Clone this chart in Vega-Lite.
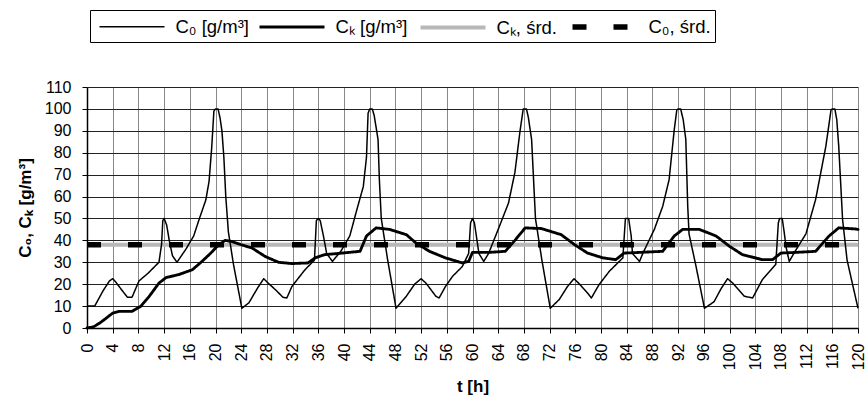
{
  "$schema": "https://vega.github.io/schema/vega-lite/v6.json",
  "width": 771,
  "height": 241,
  "autosize": {"type": "none"},
  "padding": {"left": 87, "top": 87, "right": 10, "bottom": 72},
  "background": "white",
  "data": {"values": [
    {"series": "Cₖ, śrd.", "t": 0, "v": 38},
    {"series": "Cₖ, śrd.", "t": 120, "v": 38},
    {"series": "C₀, śrd.", "t": 0, "v": 38},
    {"series": "C₀, śrd.", "t": 120, "v": 38},
    {"series": "Cₖ [g/m³]", "t": 0, "v": 0},
    {"series": "Cₖ [g/m³]", "t": 1, "v": 0.5},
    {"series": "Cₖ [g/m³]", "t": 2, "v": 2.3},
    {"series": "Cₖ [g/m³]", "t": 3, "v": 4.5},
    {"series": "Cₖ [g/m³]", "t": 4, "v": 6.8},
    {"series": "Cₖ [g/m³]", "t": 5, "v": 7.6},
    {"series": "Cₖ [g/m³]", "t": 7, "v": 7.6},
    {"series": "Cₖ [g/m³]", "t": 8.4, "v": 10},
    {"series": "Cₖ [g/m³]", "t": 9.7, "v": 14.5},
    {"series": "Cₖ [g/m³]", "t": 11.2, "v": 20.5},
    {"series": "Cₖ [g/m³]", "t": 12.3, "v": 23},
    {"series": "Cₖ [g/m³]", "t": 14.3, "v": 24.4},
    {"series": "Cₖ [g/m³]", "t": 16.4, "v": 26.6},
    {"series": "Cₖ [g/m³]", "t": 17.9, "v": 30.4},
    {"series": "Cₖ [g/m³]", "t": 19.2, "v": 34},
    {"series": "Cₖ [g/m³]", "t": 20.5, "v": 38},
    {"series": "Cₖ [g/m³]", "t": 21.5, "v": 40},
    {"series": "Cₖ [g/m³]", "t": 22.5, "v": 39.5},
    {"series": "Cₖ [g/m³]", "t": 24, "v": 38},
    {"series": "Cₖ [g/m³]", "t": 25.7, "v": 36.5},
    {"series": "Cₖ [g/m³]", "t": 27.7, "v": 32.7},
    {"series": "Cₖ [g/m³]", "t": 29.8, "v": 30},
    {"series": "Cₖ [g/m³]", "t": 31.9, "v": 29.4},
    {"series": "Cₖ [g/m³]", "t": 34.4, "v": 29.7},
    {"series": "Cₖ [g/m³]", "t": 35.5, "v": 32},
    {"series": "Cₖ [g/m³]", "t": 37, "v": 33.5},
    {"series": "Cₖ [g/m³]", "t": 39, "v": 34},
    {"series": "Cₖ [g/m³]", "t": 42.5, "v": 35},
    {"series": "Cₖ [g/m³]", "t": 43.5, "v": 42},
    {"series": "Cₖ [g/m³]", "t": 45, "v": 45.7},
    {"series": "Cₖ [g/m³]", "t": 47.1, "v": 45},
    {"series": "Cₖ [g/m³]", "t": 49.7, "v": 42.6},
    {"series": "Cₖ [g/m³]", "t": 51.2, "v": 38.8},
    {"series": "Cₖ [g/m³]", "t": 53.3, "v": 35},
    {"series": "Cₖ [g/m³]", "t": 55.8, "v": 32},
    {"series": "Cₖ [g/m³]", "t": 58.4, "v": 29.7},
    {"series": "Cₖ [g/m³]", "t": 59.4, "v": 30.4},
    {"series": "Cₖ [g/m³]", "t": 60, "v": 34.5},
    {"series": "Cₖ [g/m³]", "t": 62.5, "v": 34.5},
    {"series": "Cₖ [g/m³]", "t": 65.1, "v": 35},
    {"series": "Cₖ [g/m³]", "t": 66.6, "v": 40},
    {"series": "Cₖ [g/m³]", "t": 68.2, "v": 45.7},
    {"series": "Cₖ [g/m³]", "t": 70.7, "v": 45.4},
    {"series": "Cₖ [g/m³]", "t": 73.8, "v": 42.6},
    {"series": "Cₖ [g/m³]", "t": 75.9, "v": 38},
    {"series": "Cₖ [g/m³]", "t": 77.9, "v": 34.2},
    {"series": "Cₖ [g/m³]", "t": 80.3, "v": 32},
    {"series": "Cₖ [g/m³]", "t": 82.3, "v": 31.2},
    {"series": "Cₖ [g/m³]", "t": 83.6, "v": 34.2},
    {"series": "Cₖ [g/m³]", "t": 86, "v": 34.5},
    {"series": "Cₖ [g/m³]", "t": 89.6, "v": 35},
    {"series": "Cₖ [g/m³]", "t": 91.4, "v": 42},
    {"series": "Cₖ [g/m³]", "t": 92.7, "v": 45},
    {"series": "Cₖ [g/m³]", "t": 95.3, "v": 45},
    {"series": "Cₖ [g/m³]", "t": 97.9, "v": 42},
    {"series": "Cₖ [g/m³]", "t": 100, "v": 37.3},
    {"series": "Cₖ [g/m³]", "t": 102, "v": 33.5},
    {"series": "Cₖ [g/m³]", "t": 105.1, "v": 31.2},
    {"series": "Cₖ [g/m³]", "t": 106.7, "v": 31.2},
    {"series": "Cₖ [g/m³]", "t": 108, "v": 34.2},
    {"series": "Cₖ [g/m³]", "t": 110.3, "v": 34.5},
    {"series": "Cₖ [g/m³]", "t": 113.4, "v": 35},
    {"series": "Cₖ [g/m³]", "t": 115.5, "v": 42},
    {"series": "Cₖ [g/m³]", "t": 117, "v": 45.7},
    {"series": "Cₖ [g/m³]", "t": 119.6, "v": 45.2},
    {"series": "Cₖ [g/m³]", "t": 120, "v": 45},
    {"series": "C₀ [g/m³]", "t": 0, "v": 10},
    {"series": "C₀ [g/m³]", "t": 1.2, "v": 10},
    {"series": "C₀ [g/m³]", "t": 2.5, "v": 17},
    {"series": "C₀ [g/m³]", "t": 3.5, "v": 21.5},
    {"series": "C₀ [g/m³]", "t": 4.0, "v": 22.5},
    {"series": "C₀ [g/m³]", "t": 4.6, "v": 20.5},
    {"series": "C₀ [g/m³]", "t": 5.5, "v": 17},
    {"series": "C₀ [g/m³]", "t": 6.3, "v": 14},
    {"series": "C₀ [g/m³]", "t": 7.0, "v": 14},
    {"series": "C₀ [g/m³]", "t": 8.1, "v": 21.5},
    {"series": "C₀ [g/m³]", "t": 9.5, "v": 25},
    {"series": "C₀ [g/m³]", "t": 11.2, "v": 30},
    {"series": "C₀ [g/m³]", "t": 11.6, "v": 38},
    {"series": "C₀ [g/m³]", "t": 11.8, "v": 49},
    {"series": "C₀ [g/m³]", "t": 12.0, "v": 50},
    {"series": "C₀ [g/m³]", "t": 12.4, "v": 47},
    {"series": "C₀ [g/m³]", "t": 12.8, "v": 40},
    {"series": "C₀ [g/m³]", "t": 13.3, "v": 33},
    {"series": "C₀ [g/m³]", "t": 14.0, "v": 30},
    {"series": "C₀ [g/m³]", "t": 15.4, "v": 36},
    {"series": "C₀ [g/m³]", "t": 16.6, "v": 42},
    {"series": "C₀ [g/m³]", "t": 17.5, "v": 50},
    {"series": "C₀ [g/m³]", "t": 18.5, "v": 58.5},
    {"series": "C₀ [g/m³]", "t": 19.0, "v": 67},
    {"series": "C₀ [g/m³]", "t": 19.4, "v": 82},
    {"series": "C₀ [g/m³]", "t": 19.75, "v": 99},
    {"series": "C₀ [g/m³]", "t": 20.0, "v": 100},
    {"series": "C₀ [g/m³]", "t": 20.4, "v": 100},
    {"series": "C₀ [g/m³]", "t": 20.7, "v": 96},
    {"series": "C₀ [g/m³]", "t": 21.0, "v": 90},
    {"series": "C₀ [g/m³]", "t": 21.3, "v": 78},
    {"series": "C₀ [g/m³]", "t": 21.6, "v": 60},
    {"series": "C₀ [g/m³]", "t": 22.0, "v": 44},
    {"series": "C₀ [g/m³]", "t": 22.8, "v": 29},
    {"series": "C₀ [g/m³]", "t": 24.1, "v": 9},
    {"series": "C₀ [g/m³]", "t": 25.2, "v": 11.5},
    {"series": "C₀ [g/m³]", "t": 26.5, "v": 18},
    {"series": "C₀ [g/m³]", "t": 27.5, "v": 22.5},
    {"series": "C₀ [g/m³]", "t": 28.2, "v": 20.5},
    {"series": "C₀ [g/m³]", "t": 29.5, "v": 17},
    {"series": "C₀ [g/m³]", "t": 30.5, "v": 14},
    {"series": "C₀ [g/m³]", "t": 31.1, "v": 13.7},
    {"series": "C₀ [g/m³]", "t": 31.9, "v": 19},
    {"series": "C₀ [g/m³]", "t": 33.9, "v": 26.5},
    {"series": "C₀ [g/m³]", "t": 35.4, "v": 31},
    {"series": "C₀ [g/m³]", "t": 35.7, "v": 49},
    {"series": "C₀ [g/m³]", "t": 36.0, "v": 50},
    {"series": "C₀ [g/m³]", "t": 36.3, "v": 49},
    {"series": "C₀ [g/m³]", "t": 36.8, "v": 42},
    {"series": "C₀ [g/m³]", "t": 37.3, "v": 34},
    {"series": "C₀ [g/m³]", "t": 38.2, "v": 30.4},
    {"series": "C₀ [g/m³]", "t": 39.5, "v": 35},
    {"series": "C₀ [g/m³]", "t": 40.9, "v": 42},
    {"series": "C₀ [g/m³]", "t": 42.0, "v": 54},
    {"series": "C₀ [g/m³]", "t": 43.0, "v": 64.5},
    {"series": "C₀ [g/m³]", "t": 43.5, "v": 78},
    {"series": "C₀ [g/m³]", "t": 43.75, "v": 98},
    {"series": "C₀ [g/m³]", "t": 44.0, "v": 100},
    {"series": "C₀ [g/m³]", "t": 44.4, "v": 100},
    {"series": "C₀ [g/m³]", "t": 44.7, "v": 97},
    {"series": "C₀ [g/m³]", "t": 45.3, "v": 86},
    {"series": "C₀ [g/m³]", "t": 45.5, "v": 68},
    {"series": "C₀ [g/m³]", "t": 45.8, "v": 50},
    {"series": "C₀ [g/m³]", "t": 46.8, "v": 31},
    {"series": "C₀ [g/m³]", "t": 48.1, "v": 9},
    {"series": "C₀ [g/m³]", "t": 49.7, "v": 14.5},
    {"series": "C₀ [g/m³]", "t": 51.0, "v": 20},
    {"series": "C₀ [g/m³]", "t": 52.0, "v": 22.5},
    {"series": "C₀ [g/m³]", "t": 52.75, "v": 20.5},
    {"series": "C₀ [g/m³]", "t": 54.3, "v": 14.5},
    {"series": "C₀ [g/m³]", "t": 54.8, "v": 13.7},
    {"series": "C₀ [g/m³]", "t": 55.8, "v": 19},
    {"series": "C₀ [g/m³]", "t": 56.9, "v": 23.6},
    {"series": "C₀ [g/m³]", "t": 58.4, "v": 28},
    {"series": "C₀ [g/m³]", "t": 59.4, "v": 34},
    {"series": "C₀ [g/m³]", "t": 59.7, "v": 48},
    {"series": "C₀ [g/m³]", "t": 60.0, "v": 50},
    {"series": "C₀ [g/m³]", "t": 60.3, "v": 48},
    {"series": "C₀ [g/m³]", "t": 61.0, "v": 34},
    {"series": "C₀ [g/m³]", "t": 61.75, "v": 30.4},
    {"series": "C₀ [g/m³]", "t": 62.5, "v": 34},
    {"series": "C₀ [g/m³]", "t": 64.0, "v": 45},
    {"series": "C₀ [g/m³]", "t": 65.6, "v": 57},
    {"series": "C₀ [g/m³]", "t": 66.6, "v": 71},
    {"series": "C₀ [g/m³]", "t": 67.4, "v": 90},
    {"series": "C₀ [g/m³]", "t": 67.9, "v": 100},
    {"series": "C₀ [g/m³]", "t": 68.4, "v": 100},
    {"series": "C₀ [g/m³]", "t": 68.7, "v": 96},
    {"series": "C₀ [g/m³]", "t": 69.2, "v": 86},
    {"series": "C₀ [g/m³]", "t": 69.5, "v": 68},
    {"series": "C₀ [g/m³]", "t": 69.8, "v": 50},
    {"series": "C₀ [g/m³]", "t": 70.8, "v": 31},
    {"series": "C₀ [g/m³]", "t": 72.1, "v": 9},
    {"series": "C₀ [g/m³]", "t": 73.5, "v": 13},
    {"series": "C₀ [g/m³]", "t": 74.8, "v": 19},
    {"series": "C₀ [g/m³]", "t": 75.8, "v": 22.5},
    {"series": "C₀ [g/m³]", "t": 76.5, "v": 20.5},
    {"series": "C₀ [g/m³]", "t": 77.9, "v": 16},
    {"series": "C₀ [g/m³]", "t": 78.5, "v": 13.7},
    {"series": "C₀ [g/m³]", "t": 79.7, "v": 19.8},
    {"series": "C₀ [g/m³]", "t": 81.3, "v": 25.9},
    {"series": "C₀ [g/m³]", "t": 83.4, "v": 32},
    {"series": "C₀ [g/m³]", "t": 83.8, "v": 50},
    {"series": "C₀ [g/m³]", "t": 84.3, "v": 50},
    {"series": "C₀ [g/m³]", "t": 84.7, "v": 42},
    {"series": "C₀ [g/m³]", "t": 84.9, "v": 34},
    {"series": "C₀ [g/m³]", "t": 86.0, "v": 30.4},
    {"series": "C₀ [g/m³]", "t": 86.5, "v": 34},
    {"series": "C₀ [g/m³]", "t": 88.3, "v": 45},
    {"series": "C₀ [g/m³]", "t": 89.6, "v": 55.5},
    {"series": "C₀ [g/m³]", "t": 90.6, "v": 67.7},
    {"series": "C₀ [g/m³]", "t": 91.4, "v": 90.5},
    {"series": "C₀ [g/m³]", "t": 91.8, "v": 99.5},
    {"series": "C₀ [g/m³]", "t": 92.0, "v": 100},
    {"series": "C₀ [g/m³]", "t": 92.4, "v": 100},
    {"series": "C₀ [g/m³]", "t": 92.8, "v": 95},
    {"series": "C₀ [g/m³]", "t": 93.2, "v": 86},
    {"series": "C₀ [g/m³]", "t": 93.5, "v": 55.5},
    {"series": "C₀ [g/m³]", "t": 93.7, "v": 43},
    {"series": "C₀ [g/m³]", "t": 94.8, "v": 28},
    {"series": "C₀ [g/m³]", "t": 96.1, "v": 9},
    {"series": "C₀ [g/m³]", "t": 97.6, "v": 12},
    {"series": "C₀ [g/m³]", "t": 98.7, "v": 18},
    {"series": "C₀ [g/m³]", "t": 99.7, "v": 22.5},
    {"series": "C₀ [g/m³]", "t": 100.5, "v": 20.5},
    {"series": "C₀ [g/m³]", "t": 102.3, "v": 14.5},
    {"series": "C₀ [g/m³]", "t": 103.6, "v": 13.7},
    {"series": "C₀ [g/m³]", "t": 105.1, "v": 22},
    {"series": "C₀ [g/m³]", "t": 107.2, "v": 29},
    {"series": "C₀ [g/m³]", "t": 107.6, "v": 48},
    {"series": "C₀ [g/m³]", "t": 107.8, "v": 50},
    {"series": "C₀ [g/m³]", "t": 108.2, "v": 50},
    {"series": "C₀ [g/m³]", "t": 108.5, "v": 44},
    {"series": "C₀ [g/m³]", "t": 108.8, "v": 37},
    {"series": "C₀ [g/m³]", "t": 109.3, "v": 30.4},
    {"series": "C₀ [g/m³]", "t": 110.0, "v": 34},
    {"series": "C₀ [g/m³]", "t": 111.9, "v": 43},
    {"series": "C₀ [g/m³]", "t": 113.4, "v": 58.6},
    {"series": "C₀ [g/m³]", "t": 115.0, "v": 83},
    {"series": "C₀ [g/m³]", "t": 115.8, "v": 99.5},
    {"series": "C₀ [g/m³]", "t": 116.0, "v": 100},
    {"series": "C₀ [g/m³]", "t": 116.4, "v": 100},
    {"series": "C₀ [g/m³]", "t": 116.7, "v": 95},
    {"series": "C₀ [g/m³]", "t": 117.0, "v": 83},
    {"series": "C₀ [g/m³]", "t": 117.6, "v": 49.5},
    {"series": "C₀ [g/m³]", "t": 118.3, "v": 31},
    {"series": "C₀ [g/m³]", "t": 120, "v": 9}
  ]},
  "encoding": {
    "x": {
      "field": "t", "type": "quantitative",
      "scale": {"domain": [0, 120], "nice": false, "zero": false},
      "axis": {
        "values": [0,4,8,12,16,20,24,28,32,36,40,44,48,52,56,60,64,68,72,76,80,84,88,92,96,100,104,108,112,116,120],
        "labelAngle": 270, "labelAlign": "right", "labelBaseline": "middle",
        "title": "t [h]", "gridColor": "#888888", "labelFlush": false, "labelPadding": 10, "titlePadding": 9
      }
    },
    "y": {
      "field": "v", "type": "quantitative",
      "scale": {"domain": [0, 110], "nice": false},
      "axis": {
        "values": [0,10,20,30,40,50,60,70,80,90,100,110],
        "title": "C₀, Cₖ [g/m³]", "gridColor": "#222222", "titlePadding": 10, "labelPadding": 11
      }
    },
    "color": {
      "field": "series", "type": "nominal",
      "scale": {"domain": ["C₀ [g/m³]", "Cₖ [g/m³]", "Cₖ, śrd.", "C₀, śrd."], "range": ["black", "black", "#b8b8b8", "black"]},
      "legend": {"title": null}
    },
    "strokeWidth": {
      "field": "series", "type": "nominal",
      "scale": {"domain": ["C₀ [g/m³]", "Cₖ [g/m³]", "Cₖ, śrd.", "C₀, śrd."], "range": [1.5, 5.5, 8, 8]},
      "legend": {"title": null}
    },
    "strokeDash": {
      "field": "series", "type": "nominal",
      "scale": {"domain": ["C₀ [g/m³]", "Cₖ [g/m³]", "Cₖ, śrd.", "C₀, śrd."], "range": [[1, 0], [1, 0], [1, 0], [14, 27]]},
      "legend": {"title": null}
    }
  },
  "layer": [
    {"transform": [{"filter": "datum.series === 'Cₖ, śrd.'"}], "mark": {"type": "line", "strokeCap": "butt"}},
    {"transform": [{"filter": "datum.series === 'C₀, śrd.'"}], "mark": {"type": "line", "strokeCap": "butt"}},
    {"transform": [{"filter": "datum.series === 'Cₖ [g/m³]'"}], "mark": {"type": "line", "strokeJoin": "round", "strokeCap": "round"}},
    {"transform": [{"filter": "datum.series === 'C₀ [g/m³]'"}], "mark": {"type": "line", "strokeJoin": "round"}}
  ],
  "config": {
    "font": "Liberation Sans",
    "view": {"stroke": null},
    "axis": {
      "labelFont": "Liberation Sans", "labelFontSize": 16, "labelColor": "black",
      "titleFont": "Liberation Sans", "titleFontSize": 17, "titleFontWeight": "bold", "titleColor": "black",
      "domainColor": "black", "domainWidth": 1.5, "tickColor": "black", "tickSize": 5,
      "grid": true, "gridWidth": 1, "gridOpacity": 1
    },
    "legend": {
      "orient": "none", "legendX": 3, "legendY": -77,
      "direction": "horizontal", "columns": 4,
      "strokeColor": "black", "fillColor": "white", "padding": 4,
      "symbolType": "M-3.25,0L3.25,0", "symbolSize": 400, "symbolOffset": 25,
      "labelFont": "Liberation Sans", "labelFontSize": 18.5, "labelColor": "black",
      "labelOffset": 30.5, "columnPadding": 4, "labelLimit": 200
    }
  }
}
